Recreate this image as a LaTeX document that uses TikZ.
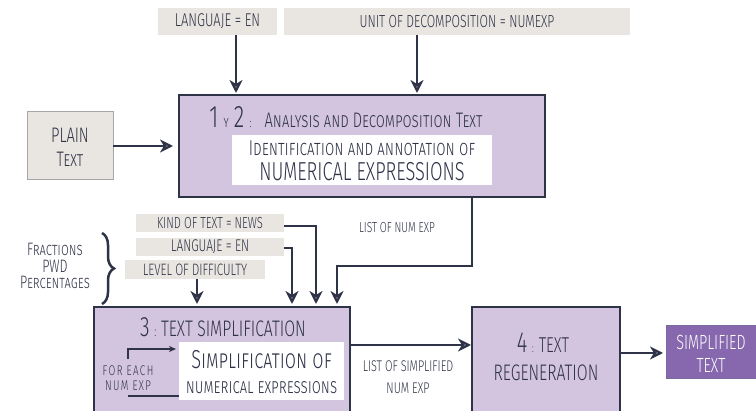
\documentclass[tikz,border=0pt]{standalone}
\usepackage{fontspec}
\IfFontExistsTF{Fira Sans Light}
  {\setmainfont{Fira Sans Light}[FakeStretch=0.7]}
  {\setmainfont{Fira Sans}[FakeStretch=0.7]}
\usetikzlibrary{arrows.meta,decorations.pathreplacing}
\definecolor{ink}{HTML}{2F3348}
\definecolor{tagfill}{HTML}{E9E5E0}
\definecolor{stagefill}{HTML}{D3C5E0}
\definecolor{tipgray}{HTML}{6E6E80}
\definecolor{outfill}{HTML}{8767AE}
\definecolor{outline}{HTML}{7A68A0}
\newcommand\fsz[1]{\fontsize{#1}{#1}\selectfont}
\begin{document}
\begin{tikzpicture}[x=1pt,y=-1pt,
  every node/.style={text=ink, inner sep=0pt, outer sep=0pt},
  tagbox/.style={fill=tagfill},
  inputbox/.style={fill=tagfill, draw=gray!70, line width=1pt},
  stagebox/.style={fill=stagefill, draw=ink, line width=2pt},
  innerbox/.style={fill=white},
  outbox/.style={fill=outfill, draw=outline, line width=1pt, text=white},
  conn/.style={draw=ink, line width=2pt},
  arr/.style={conn, -{Stealth[length=13pt,width=13pt,inset=4pt,fill=tipgray]}},
  smallarr/.style={conn, line width=1.5pt, -{Stealth[length=7pt,width=6pt,inset=2pt]}}
]
\clip (0,0) rectangle (756,411);

% parameters of stages 1 and 2
\node[tagbox, minimum width=119pt, minimum height=27pt] (lang) at (217.5,21.5) {\fsz{18.5}LANGUAJE = EN};
\node[tagbox, minimum width=346pt, minimum height=27pt] (unit) at (457,21.5) {\fsz{17.5}UNIT OF DECOMPOSITION = NUMEXP};

% input text
\node[inputbox, minimum width=86pt, minimum height=68pt] (plain) at (70,146) {};
\node (plainA) at (70,135) {\fsz{21}PLAIN};
\node (plainB) at (70,159) {\fsz{21}\scshape Text};

% stages 1 and 2
\node[stagebox, minimum width=366pt, minimum height=102pt] (ad) at (362,146) {};
\node (adtitle) at (346,117) {\fsz{31}1\,{\fsz{16}\scshape y}\,2\,{\fsz{13}:}\, {\fsz{21}\scshape Analysis and Decomposition Text}};
\node[innerbox, minimum width=260pt, minimum height=50pt] (adinner) at (362,160) {};
\node (adl1) at (362,148) {\fsz{21.5}\scshape Identification and annotation of};
\node (adl2) at (362,172) {\fsz{26}NUMERICAL EXPRESSIONS};

% parameters of stage 3
\node[tagbox, minimum width=148pt, minimum height=18pt] (kind) at (210,223) {\fsz{16}KIND OF TEXT = NEWS};
\node[tagbox, minimum width=148pt, minimum height=18pt] (lang2) at (210,247) {\fsz{17}LANGUAJE = EN};
\node[tagbox, minimum width=140pt, minimum height=19pt] (level) at (195,269.5) {\fsz{16.5}LEVEL OF DIFFICULTY};
\node[align=center] (types) at (55,266) {\fsz{18}\scshape Fractions\\[3pt]\fsz{18}PWD\\[3pt]\fsz{18}\scshape Percentages};
\coordinate (brtop) at (102,233);
\coordinate (brbot) at (102,304);
\draw[ink, line width=2.5pt, decorate, decoration={brace, amplitude=12pt}] (brtop) -- (brbot);

% stage 3
\node[stagebox, minimum width=256pt, minimum height=124pt] (simp) at (222,369) {};
\node (simptitle) at (223,327) {\fsz{28}3\,{\fsz{14}:}\,{\fsz{22.5}TEXT SIMPLIFICATION}};
\node[innerbox, minimum width=165pt, minimum height=58pt] (simpinner) at (261.5,371) {};
\node (sil1) at (261.5,360) {\fsz{26}\scshape Simplification of};
\node (sil2) at (261.5,388) {\fsz{21}\scshape numerical expressions};
\node (loopA) at (128,371) {\fsz{14}\addfontfeature{LetterSpace=10}FOR EACH};
\node (loopB) at (128,386) {\fsz{14}\addfontfeature{LetterSpace=10}NUM EXP};
\coordinate (loopstart) at (128,359);
\coordinate (loopcorner) at (128,349);
\coordinate (loopend) at (176,349);
\coordinate (backstart) at (128,396);
\coordinate (backend) at (179,396);
\draw[smallarr] (loopstart) -- (loopcorner) -- (loopend);
\draw[conn] (backstart) -- (backend);

% stage 4
\node[stagebox, line width=1.5pt, minimum width=148pt, minimum height=124pt] (regen) at (546,369) {};
\node (regl1) at (543,343) {\fsz{29}4\,{\fsz{12}:}\,{\fsz{21.5}TEXT}};
\node (regl2) at (546,373) {\fsz{22.5}REGENERATION};

% output text
\node[outbox, minimum width=92pt, minimum height=53pt] (out) at (712,352.5) {};
\node[text=white] (outA) at (711,342) {\fsz{20.5}SIMPLIFIED};
\node[text=white] (outB) at (711,365) {\fsz{20.5}TEXT};

% connector labels
\node (numexp) at (397,228) {\fsz{14.5}LIST OF NUM EXP};
\node (simlA) at (408,366) {\fsz{15.5}LIST OF SIMPLIFIED};
\node (simlB) at (408,388) {\fsz{15.5}NUM EXP};

% connectors
\draw[arr, shorten >=2pt] (236,0 |- lang.south) -- (236,0 |- ad.north);
\draw[arr, shorten >=2pt] (417,0 |- unit.south) -- (417,0 |- ad.north);
\draw[arr, shorten >=6pt] (plain.east) -- (ad.west);
\draw[arr, shorten >=3pt] (472,0 |- ad.south) -- (472,266) -- (337,266) -- (337,0 |- simp.north);
\draw[arr, shorten >=3pt] (kind.east |- 0,226) -- (316,226) -- (316,0 |- simp.north);
\draw[arr, shorten >=3pt] (lang2.east |- 0,248) -- (292,248) -- (292,0 |- simp.north);
\draw[arr, shorten >=3pt] (197,0 |- level.south) -- (197,0 |- simp.north);
\draw[arr, shorten >=1pt] (simp.east |- 0,345) -- (regen.west |- 0,345);
\draw[arr, shorten >=3pt] (regen.east |- 0,353) -- (out.west |- 0,353);
\end{tikzpicture}
\end{document}
